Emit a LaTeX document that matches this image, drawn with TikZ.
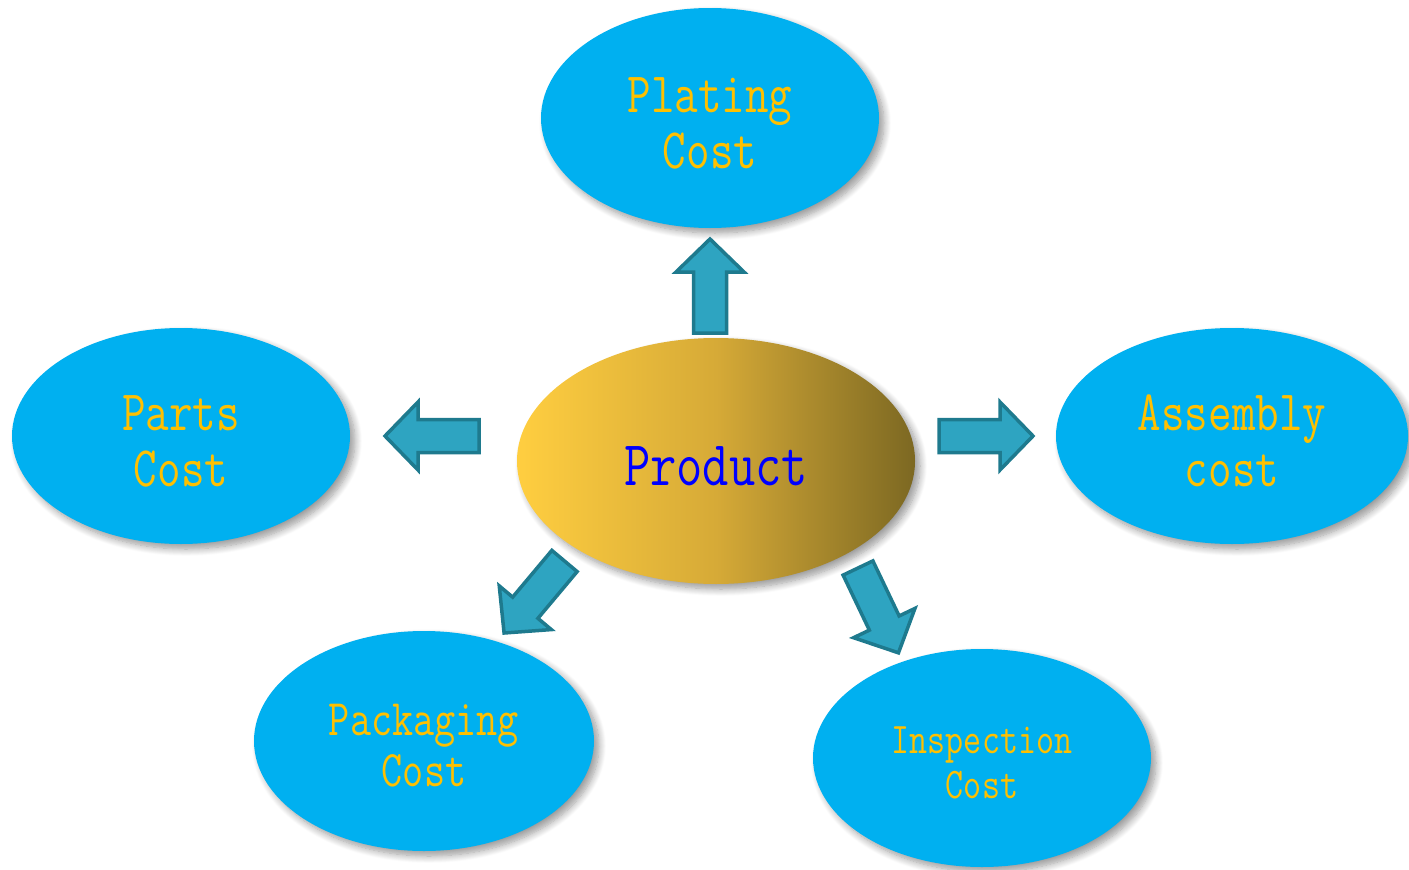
\documentclass[tikz,border=0pt]{standalone}
\usetikzlibrary{shapes.geometric,shadows.blur}
\definecolor{bubble}{RGB}{0,176,240}
\definecolor{lbl}{RGB}{255,192,0}
\definecolor{arrfill}{RGB}{46,164,193}
\definecolor{arrline}{RGB}{30,122,142}
\definecolor{goldL}{RGB}{255,206,64}
\definecolor{goldM}{RGB}{214,170,55}
\definecolor{goldR}{RGB}{124,104,34}
\definecolor{prodtext}{RGB}{0,0,255}
\newcommand\tall[1]{\scalebox{1}[1.25]{#1}}
\newcommand\blockarrow[2]{%
  \draw[blockarrowstyle, shift={#1}, rotate=#2]
    (0,-16.5) -- (61,-16.5) -- (61,-34) -- (94,0) -- (61,34) -- (61,16.5) -- (0,16.5) -- cycle;}
\tikzset{
  softshadow/.style={blur shadow={shadow xshift=5pt, shadow yshift=-5pt, shadow opacity=40,
    shadow blur radius=7pt, shadow blur steps=10}},
  bubblestyle/.style={ellipse, fill=bubble, inner sep=0pt, softshadow},
  lblstyle/.style={inner sep=0pt, text=lbl, align=center},
  blockarrowstyle/.style={fill=arrfill, draw=arrline, line width=3.5pt, line join=miter},
}
\begin{document}
\begin{tikzpicture}[x=1pt, y=-1pt]
\useasboundingbox (0,0) rectangle (1409,870);
% centre
\node[ellipse, minimum width=398pt, minimum height=246pt, inner sep=0pt,
  left color=goldL, right color=goldR, middle color=goldM, softshadow] (prod) at (716,461) {};
\node[inner sep=0pt, text=prodtext, font=\ttfamily\fontsize{51}{60}\selectfont]
  (prodtext) at ([yshift=-5pt]prod.center) {\tall{Product}};
% outer bubbles
\node[bubblestyle, minimum width=338pt, minimum height=220pt] (plating) at (710,118) {};
\node[lblstyle, font=\ttfamily\fontsize{45.7}{56}\selectfont]
  (platingtext) at ([yshift=-5pt]plating.center) {\tall{Plating}\\\tall{Cost}};
\node[bubblestyle, minimum width=338pt, minimum height=216pt] (parts) at (181,436) {};
\node[lblstyle, font=\ttfamily\fontsize{45.7}{56}\selectfont]
  (partstext) at ([yshift=-5pt]parts.center) {\tall{Parts}\\\tall{Cost}};
\node[bubblestyle, minimum width=352pt, minimum height=216pt] (assembly) at (1232,436) {};
\node[lblstyle, font=\ttfamily\fontsize{45.7}{56}\selectfont]
  (assemblytext) at ([yshift=-5pt]assembly.center) {\tall{Assembly}\\\tall{cost}};
\node[bubblestyle, minimum width=340pt, minimum height=220pt] (packaging) at (424,741) {};
\node[lblstyle, font=\ttfamily\fontsize{41}{51}\selectfont]
  (packagingtext) at ([yshift=-5pt]packaging.center) {\tall{Packaging}\\\tall{Cost}};
\node[bubblestyle, minimum width=338pt, minimum height=218pt] (inspection) at (982,758) {};
\node[lblstyle, font=\ttfamily\fontsize{35}{45}\selectfont]
  (inspectiontext) at ([yshift=-5pt]inspection.center) {\tall{Inspection}\\\tall{Cost}};
% block arrows
\blockarrow{(710,333)}{90}
\blockarrow{(479,436)}{180}
\blockarrow{(939,436)}{0}
\blockarrow{(564.5,561)}{-130}
\blockarrow{(858,568)}{-64.5}
\end{tikzpicture}
\end{document}
